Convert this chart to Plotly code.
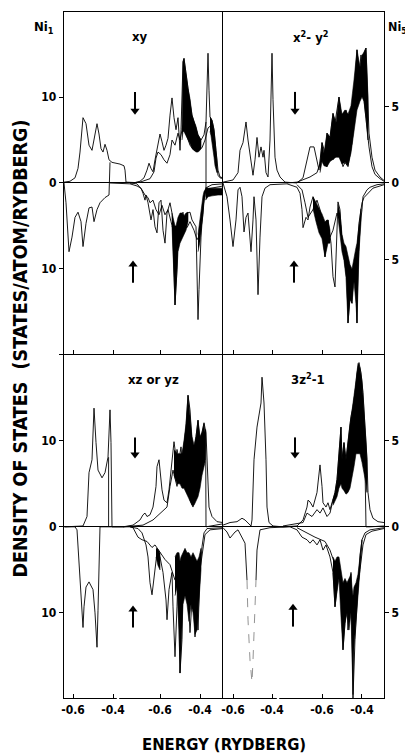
import plotly.graph_objects as go

# ---------------- tick positions / labels ----------------
left_tickvals = [-1.035, -0.835, -0.6, -0.4]
right_tickvals = [-1.045, -0.85, -0.6, -0.4]
x_ticktext = ["-0.6", "-0.4", "-0.6", "-0.4"]
ni1_tickvals = [-10, 0, 10]
ni1_ticktext = ["10", "0", "10"]
ni5_tickvals = [-5, 0, 5]
ni5_ticktext = ["5", "0", "5"]
axis_break_left = -0.81
axis_break_right = -0.82

# ---------------- xy : spin down (upper half) ----------------
xy_dn_a = [(-1.08, 0.1), (-1.05, 0.2), (-1.025, 0.6), (-1.01, 1.7), (-1.0, 3.6), (-0.99, 6.7), (-0.985, 7.6),
           (-0.97, 6.9), (-0.955, 4.4), (-0.94, 3.8), (-0.925, 5.5), (-0.915, 6.9), (-0.905, 5.7), (-0.895, 4.0),
           (-0.885, 3.6), (-0.875, 4.5), (-0.865, 3.8), (-0.855, 2.7), (-0.84, 2.4), (-0.80, 2.2), (-0.78, 2.0),
           (-0.775, 1.5), (-0.77, 0.1), (-0.725, 0.05), (-0.70, 0.2), (-0.68, 0.6), (-0.665, 1.5), (-0.655, 2.3),
           (-0.645, 1.7), (-0.635, 1.3), (-0.625, 2.7), (-0.615, 4.1), (-0.60, 5.7), (-0.59, 4.8), (-0.58, 3.8),
           (-0.57, 4.4), (-0.56, 5.2), (-0.55, 7.9), (-0.54, 9.9), (-0.53, 7.6), (-0.52, 6.2), (-0.51, 7.6),
           (-0.50, 3.8), (-0.495, 6.2), (-0.485, 14.1), (-0.48, 14.5), (-0.47, 12.6), (-0.455, 10.2), (-0.44, 7.9),
           (-0.425, 6.7), (-0.41, 5.6), (-0.395, 5.0), (-0.38, 5.6), (-0.37, 7.1), (-0.365, 12.0), (-0.36, 15.1),
           (-0.355, 10.8), (-0.35, 7.7), (-0.34, 7.3), (-0.33, 6.2), (-0.32, 3.8), (-0.31, 1.5), (-0.30, 0.7),
           (-0.285, 0.6)]
xy_dn_b = [(-0.75, 0), (-0.70, 0.1), (-0.65, 0.5), (-0.63, 1.3), (-0.62, 2.9), (-0.61, 3.6), (-0.595, 3.3),
           (-0.58, 2.7), (-0.565, 2.3), (-0.55, 3.3), (-0.54, 5.0), (-0.525, 4.4), (-0.51, 5.8), (-0.50, 5.0),
           (-0.485, 6.7), (-0.47, 5.6), (-0.45, 4.4), (-0.43, 3.8), (-0.41, 3.8), (-0.39, 4.1), (-0.375, 5.0),
           (-0.36, 6.4), (-0.345, 6.7), (-0.33, 5.6), (-0.32, 2.7), (-0.31, 0.9), (-0.30, 0.6), (-0.285, 0.5),
           (None, None), (-0.37, 7.1), (-0.37, -1.6)]
xy_dn_band1 = [(-0.49, 6.2, 5.0), (-0.485, 14.1, 6.0), (-0.48, 14.5, 6.0), (-0.47, 12.6, 5.5), (-0.46, 11.0, 5.0),
               (-0.45, 9.8, 4.6), (-0.44, 7.9, 4.0), (-0.43, 7.2, 3.8), (-0.42, 6.6, 3.6), (-0.41, 5.6, 3.6),
               (-0.40, 5.2, 3.8), (-0.395, 5.0, 4.0)]
xy_dn_band2 = [(-0.35, 7.7, 6.0), (-0.345, 7.5, 5.5), (-0.34, 7.3, 5.0), (-0.335, 6.8, 4.0), (-0.33, 6.2, 3.0),
               (-0.325, 5.0, 2.0), (-0.32, 3.8, 1.5), (-0.315, 2.5, 1.2)]

# ---------------- xy : spin up (lower half) ----------------
xy_up_a = [(-1.08, 0), (-1.07, -2.3), (-1.055, -8.0), (-1.04, -6.3), (-1.025, -4.0), (-1.01, -3.4), (-0.995, -4.5),
           (-0.985, -7.4), (-0.97, -4.7), (-0.955, -2.9), (-0.94, -2.8), (-0.93, -4.5), (-0.915, -3.1), (-0.90, -2.3),
           (-0.875, -1.7), (-0.855, -1.4), (-0.85, 2.4), (None, None), (-0.85, 0), (-0.80, -0.05), (-0.75, -0.1),
           (-0.715, -0.35), (-0.695, -0.6), (-0.685, -1.2), (-0.675, -2.0), (-0.67, -1.4), (-0.66, -2.3),
           (-0.645, -4.3), (-0.635, -3.1), (-0.625, -5.1), (-0.615, -5.8), (-0.605, -2.3), (-0.595, -2.0),
           (-0.585, -5.5), (-0.575, -7.0), (-0.565, -3.5), (-0.55, -2.3), (-0.54, -3.5), (-0.535, -8.1),
           (-0.525, -14.2), (-0.515, -10.1), (-0.51, -5.8), (-0.50, -4.0), (-0.485, -3.4), (-0.475, -4.9),
           (-0.465, -3.5), (-0.45, -3.4), (-0.44, -4.3), (-0.42, -5.1), (-0.415, -10.1), (-0.41, -15.9),
           (-0.405, -12.4), (-0.395, -6.3), (-0.385, -2.8), (-0.375, -1.2), (-0.365, -0.5), (-0.34, -0.2),
           (-0.285, -0.1)]
xy_up_b = [(-0.75, 0), (-0.715, -0.1), (-0.69, -0.8), (-0.675, -1.4), (-0.66, -1.7), (-0.65, -2.3), (-0.635, -2.0),
           (-0.62, -3.1), (-0.605, -3.7), (-0.59, -2.6), (-0.575, -3.7), (-0.56, -3.1), (-0.545, -4.5), (-0.53, -6.0),
           (-0.515, -7.2), (-0.50, -5.5), (-0.485, -4.9), (-0.465, -5.2), (-0.45, -4.5), (-0.43, -5.5), (-0.415, -6.6),
           (-0.40, -6.0), (-0.385, -3.7), (-0.38, -2.0), (-0.375, -1.0), (-0.365, -0.7), (-0.34, -0.6), (-0.31, -0.5),
           (-0.285, -0.35)]
xy_up_band1 = [(-0.54, -3.5, -5.0), (-0.535, -4.0, -8.1), (-0.53, -4.5, -11.0), (-0.525, -5.0, -14.2),
               (-0.52, -5.0, -12.0), (-0.515, -4.5, -10.0), (-0.51, -4.0, -8.0), (-0.50, -3.5, -7.0),
               (-0.49, -3.5, -6.5), (-0.48, -3.8, -6.0), (-0.47, -3.5, -5.5), (-0.46, -3.4, -4.5)]
xy_up_band2 = [(-0.41, -6.0, -8.0), (-0.405, -5.0, -7.5), (-0.40, -4.0, -6.8), (-0.395, -3.0, -5.5),
               (-0.39, -2.2, -4.2), (-0.385, -1.5, -3.0), (-0.38, -1.0, -2.0), (-0.375, -0.8, -1.3),
               (-0.37, -0.6, -1.0)]
xy_up_band3 = [(-0.372, -0.5, -2.0), (-0.36, -0.6, -1.6), (-0.34, -0.6, -1.5), (-0.31, -0.6, -1.4),
               (-0.285, -0.6, -1.4)]

# ---------------- x2-y2 : spin down ----------------
x2y2_dn_a = [(-1.095, 0.1), (-1.045, 0.35), (-1.02, 1.2), (-1.01, 3.8), (-0.995, 4.7), (-0.98, 7.1), (-0.97, 5.0),
             (-0.95, 1.2), (-0.945, 0.9), (-0.935, 2.7), (-0.925, 5.3), (-0.915, 3.0), (-0.905, 4.2), (-0.895, 3.0),
             (-0.89, 3.8), (-0.88, 1.2), (-0.87, 0.7), (-0.86, 5.0), (-0.85, 15.1), (-0.845, 9.7), (-0.835, 3.0),
             (-0.825, 1.5), (-0.81, 0.7), (-0.785, 0.1), (-0.725, 0), (-0.695, 0.6), (-0.675, 2.7), (-0.66, 4.2),
             (-0.64, 4.2), (-0.625, 2.7), (-0.615, 1.5), (-0.60, 4.7), (-0.585, 3.5), (-0.575, 5.8), (-0.56, 5.3),
             (-0.545, 8.1), (-0.535, 7.0), (-0.515, 10.0), (-0.505, 8.1), (-0.495, 7.3), (-0.48, 8.5), (-0.465, 7.3),
             (-0.45, 8.8), (-0.435, 12.0), (-0.425, 15.5), (-0.415, 12.5), (-0.405, 14.9), (-0.395, 11.5),
             (-0.39, 15.2), (-0.38, 15.7), (-0.37, 10.0), (-0.365, 5.8), (-0.35, 3.0), (-0.335, 1.5), (-0.31, 0.7),
             (-0.295, 0.35), (-0.29, 0.3)]
x2y2_dn_b = [(-0.775, 0), (-0.725, 0.1), (-0.66, 0.7), (-0.625, 1.2), (-0.61, 2.3), (-0.60, 3.0), (-0.575, 1.9),
             (-0.56, 3.3), (-0.545, 2.7), (-0.53, 3.9), (-0.515, 3.5), (-0.495, 1.9), (-0.485, 2.4), (-0.47, 1.9),
             (-0.45, 4.7), (-0.435, 8.1), (-0.42, 9.7), (-0.40, 10.8), (-0.39, 9.7), (-0.375, 6.5), (-0.365, 4.2),
             (-0.35, 1.9), (-0.335, 1.0), (-0.31, 0.5), (-0.29, 0.2)]
x2y2_dn_band = [(-0.61, 2.3, 1.2), (-0.60, 4.7, 2.5), (-0.59, 3.5, 2.0), (-0.575, 5.8, 1.9), (-0.56, 5.3, 2.5),
                (-0.545, 8.1, 2.7), (-0.53, 7.0, 3.0), (-0.515, 10.0, 3.0), (-0.50, 8.0, 2.2), (-0.485, 8.5, 2.4),
                (-0.47, 8.0, 2.0), (-0.455, 9.0, 3.5), (-0.44, 12.0, 6.0), (-0.425, 15.5, 8.5), (-0.41, 13.5, 9.5),
                (-0.40, 14.9, 10.0), (-0.39, 15.2, 9.5), (-0.38, 15.7, 7.5), (-0.37, 10.0, 5.0)]

# ---------------- x2-y2 : spin up ----------------
x2y2_up_a = [(-1.095, 0), (-1.075, -1.6), (-1.06, -4.3), (-1.045, -7.4), (-1.03, -4.3), (-1.02, -0.8), (-1.01, -0.5),
             (-1.0, -1.6), (-0.99, -5.7), (-0.98, -4.0), (-0.97, -3.5), (-0.955, -8.0), (-0.945, -4.3), (-0.94, -1.6),
             (-0.93, -4.3), (-0.92, -13.0), (-0.91, -6.3), (-0.90, -1.6), (-0.885, -0.6), (-0.86, -0.2),
             (-0.775, -0.1), (-0.725, -0.5), (-0.71, -1.2), (-0.70, -3.1), (-0.695, -5.2), (-0.68, -4.0),
             (-0.67, -4.3), (-0.66, -2.8), (-0.645, -1.6), (-0.635, -2.3), (-0.62, -3.5), (-0.60, -5.1),
             (-0.585, -8.6), (-0.575, -6.3), (-0.57, -4.3), (-0.555, -7.0), (-0.545, -10.9), (-0.535, -12.1),
             (-0.525, -3.5), (-0.52, -2.2), (-0.51, -3.1), (-0.50, -7.0), (-0.49, -8.6), (-0.475, -11.3),
             (-0.47, -16.3), (-0.46, -13.3), (-0.45, -14.0), (-0.445, -11.3), (-0.435, -9.0), (-0.425, -16.3),
             (-0.42, -10.1), (-0.41, -5.1), (-0.40, -3.1), (-0.395, -1.6), (-0.375, -0.8), (-0.36, -0.5),
             (-0.325, -0.2), (-0.29, -0.1)]
x2y2_up_b = [(-0.725, -0.2), (-0.70, -0.8), (-0.685, -2.3), (-0.67, -4.0), (-0.645, -3.1), (-0.625, -2.0),
             (-0.61, -3.1), (-0.595, -5.1), (-0.575, -4.3), (-0.56, -6.3), (-0.545, -5.5), (-0.525, -3.5),
             (-0.51, -4.3), (-0.495, -7.4), (-0.475, -8.6), (-0.46, -10.9), (-0.445, -10.1), (-0.425, -7.8),
             (-0.415, -4.7), (-0.40, -2.3), (-0.39, -1.7), (-0.37, -1.2), (-0.345, -0.6), (-0.31, -0.35),
             (-0.29, -0.2)]
x2y2_up_band1 = [(-0.645, -1.6, -3.0), (-0.63, -2.3, -4.5), (-0.615, -3.0, -5.8), (-0.60, -3.6, -6.5),
                 (-0.585, -4.5, -8.6), (-0.57, -4.3, -7.0), (-0.56, -5.5, -7.0)]
x2y2_up_band2 = [(-0.52, -2.5, -4.0), (-0.51, -3.5, -6.0), (-0.50, -6.0, -8.0), (-0.49, -7.0, -9.0),
                 (-0.48, -7.4, -11.0), (-0.47, -8.5, -16.3), (-0.46, -9.5, -13.5), (-0.45, -10.0, -14.0),
                 (-0.44, -8.5, -11.5), (-0.43, -7.5, -14.0), (-0.425, -7.0, -16.3), (-0.415, -5.0, -8.0),
                 (-0.405, -3.0, -4.5)]

# ---------------- xz or yz : spin down ----------------
xz_dn_a = [(-1.075, 0), (-0.985, 0.1), (-0.965, 1.2), (-0.955, 6.3), (-0.94, 7.8), (-0.935, 11.6), (-0.93, 13.8),
           (-0.92, 9.8), (-0.91, 6.6), (-0.89, 5.7), (-0.875, 6.3), (-0.86, 8.1), (-0.855, 11.6), (-0.85, 13.6),
           (-0.845, 9.8), (-0.84, 0), (-0.785, 0), (-0.735, 0.2), (-0.70, 0.8), (-0.685, 1.4), (-0.675, 1.6),
           (-0.665, 1.2), (-0.65, 1.4), (-0.635, 2.3), (-0.62, 4.7), (-0.615, 7.0), (-0.605, 7.8), (-0.60, 6.6),
           (-0.59, 4.3), (-0.58, 3.1), (-0.565, 2.8), (-0.555, 4.3), (-0.54, 7.8), (-0.53, 9.9), (-0.52, 8.1),
           (-0.515, 9.0), (-0.505, 7.8), (-0.495, 9.3), (-0.49, 7.8), (-0.48, 9.8), (-0.47, 11.6), (-0.46, 15.3),
           (-0.45, 13.6), (-0.44, 9.8), (-0.435, 7.8), (-0.42, 10.5), (-0.41, 12.4), (-0.40, 9.8), (-0.385, 11.3),
           (-0.38, 12.1), (-0.37, 10.9), (-0.36, 5.8), (-0.355, 2.3), (-0.34, 1.2), (-0.315, 0.6), (-0.285, 0.5)]
xz_dn_b = [(-0.785, 0), (-0.685, 0.2), (-0.635, 0.8), (-0.60, 1.6), (-0.565, 2.3), (-0.55, 4.7), (-0.535, 6.6),
           (-0.515, 4.7), (-0.50, 6.6), (-0.485, 5.8), (-0.465, 6.6), (-0.45, 3.1), (-0.435, 2.3), (-0.415, 4.7),
           (-0.40, 6.6), (-0.385, 8.1), (-0.375, 7.8), (-0.372, 11.3), (-0.37, 0), (-0.325, 0.2), (-0.285, 0.35),
           (None, None), (-0.857, 8.1), (-0.857, 0)]
xz_dn_band = [(-0.53, 9.0, 6.0), (-0.515, 8.5, 5.0), (-0.50, 8.5, 5.0), (-0.49, 8.5, 4.5), (-0.48, 10.0, 4.5),
              (-0.47, 12.0, 4.0), (-0.46, 15.3, 3.5), (-0.45, 13.0, 3.0), (-0.44, 10.5, 2.5), (-0.43, 9.5, 2.5),
              (-0.42, 10.5, 3.0), (-0.41, 12.4, 3.5), (-0.40, 10.5, 4.5), (-0.39, 11.0, 6.0), (-0.38, 12.0, 7.0),
              (-0.375, 11.0, 7.5)]

# ---------------- xz or yz : spin up ----------------
xz_up_a = [(-1.08, 0), (-1.025, 0), (-1.015, -0.35), (-1.01, -2.1), (-1.0, -5.6), (-0.99, -9.3), (-0.985, -11.7),
           (-0.98, -9.3), (-0.97, -7.0), (-0.955, -6.4), (-0.94, -7.0), (-0.935, -7.3), (-0.925, -10.0),
           (-0.915, -14.0), (-0.91, -9.7), (-0.905, -3.5), (-0.90, 0), (-0.75, 0), (-0.71, -0.2), (-0.69, -0.7),
           (-0.67, -2.1), (-0.66, -3.5), (-0.65, -6.5), (-0.64, -7.9), (-0.63, -5.6), (-0.615, -3.0), (-0.60, -3.5),
           (-0.585, -5.3), (-0.57, -8.5), (-0.565, -10.8), (-0.555, -7.3), (-0.54, -5.3), (-0.535, -9.3),
           (-0.525, -15.1), (-0.515, -9.3), (-0.51, -5.3), (-0.50, -17.0), (-0.49, -13.1), (-0.485, -5.3),
           (-0.475, -2.7), (-0.465, -5.3), (-0.45, -12.3), (-0.44, -8.5), (-0.435, -3.5), (-0.425, -12.8),
           (-0.415, -8.5), (-0.41, -12.0), (-0.40, -5.3), (-0.39, -2.3), (-0.38, -0.7), (-0.365, -0.2),
           (-0.285, -0.1)]
xz_up_b = [(-0.75, 0), (-0.735, -0.1), (-0.71, -1.2), (-0.69, -1.5), (-0.665, -1.7), (-0.64, -2.4), (-0.625, -2.1),
           (-0.60, -2.9), (-0.575, -3.8), (-0.55, -4.4), (-0.525, -6.2), (-0.50, -6.7), (-0.475, -3.8), (-0.45, -5.6),
           (-0.425, -7.3), (-0.40, -5.0), (-0.385, -2.7), (-0.375, -0.9), (-0.35, -0.35), (-0.285, -0.2)]
xz_up_band1 = [(-0.525, -3.5, -8.0), (-0.515, -3.0, -7.0), (-0.505, -3.0, -12.0), (-0.50, -4.0, -17.0),
               (-0.495, -3.5, -14.0), (-0.485, -3.0, -9.0), (-0.475, -2.5, -8.0), (-0.465, -3.0, -9.0),
               (-0.455, -3.0, -11.0), (-0.445, -3.5, -9.0), (-0.435, -3.0, -10.0), (-0.425, -3.5, -12.5),
               (-0.415, -4.0, -12.0), (-0.405, -3.5, -9.0), (-0.395, -2.5, -5.0)]
xz_up_band2 = [(-0.62, -2.5, -3.5), (-0.61, -2.6, -4.5), (-0.60, -3.0, -5.0)]

# ---------------- 3z2-1 : spin down ----------------
z2_dn_a = [(-1.095, 0.2), (-1.06, 0.5), (-1.025, 0.6), (-1.0, 1.0), (-0.985, 0.8), (-0.97, 0.5), (-0.955, 0.1),
           (-0.95, 0.8), (-0.94, 7.8), (-0.925, 11.6), (-0.915, 13.0), (-0.905, 14.4), (-0.90, 17.4), (-0.89, 14.4),
           (-0.88, 7.8), (-0.875, 2.3), (-0.865, 0.5), (-0.845, 0.1), (-0.795, 0), (-0.725, 0.1), (-0.695, 0.8),
           (-0.675, 2.3), (-0.67, 3.1), (-0.66, 2.9), (-0.645, 2.3), (-0.635, 3.1), (-0.625, 4.0), (-0.62, 5.1),
           (-0.61, 7.2), (-0.60, 4.7), (-0.595, 2.8), (-0.58, 2.3), (-0.57, 2.8), (-0.56, 2.0), (-0.545, 3.1),
           (-0.535, 4.0), (-0.525, 5.5), (-0.515, 8.6), (-0.505, 11.6), (-0.50, 7.8), (-0.49, 9.8), (-0.48, 7.8),
           (-0.47, 10.1), (-0.455, 12.8), (-0.445, 14.0), (-0.435, 15.6), (-0.425, 17.9), (-0.415, 19.1),
           (-0.405, 17.9), (-0.395, 15.6), (-0.385, 11.6), (-0.375, 7.8), (-0.37, 4.0), (-0.36, 2.0), (-0.345, 1.0),
           (-0.32, 0.6), (-0.29, 0.5)]
z2_dn_b = [(-0.795, 0.1), (-0.695, 0.5), (-0.675, 1.6), (-0.65, 1.2), (-0.625, 2.0), (-0.61, 1.6), (-0.595, 2.2),
           (-0.575, 1.2), (-0.56, 1.6), (-0.545, 3.1), (-0.525, 4.3), (-0.51, 5.8), (-0.495, 4.7), (-0.475, 4.0),
           (-0.46, 5.1), (-0.445, 7.8), (-0.425, 9.8), (-0.41, 9.3), (-0.395, 7.8), (-0.385, 7.1), (-0.38, 0),
           (-0.36, 0), (-0.29, 0.1)]
z2_dn_band = [(-0.545, 3.1, 2.5), (-0.535, 4.0, 3.0), (-0.525, 5.5, 3.5), (-0.515, 8.6, 4.5), (-0.505, 11.6, 5.0),
              (-0.50, 7.8, 4.5), (-0.49, 9.8, 4.2), (-0.48, 7.8, 3.8), (-0.47, 10.1, 4.0), (-0.46, 12.0, 4.5),
              (-0.45, 13.5, 5.5), (-0.44, 15.0, 7.0), (-0.43, 17.0, 8.5), (-0.42, 19.0, 8.5), (-0.41, 18.5, 8.5),
              (-0.40, 17.0, 7.5), (-0.39, 14.0, 6.5), (-0.38, 10.0, 5.0), (-0.375, 7.8, 4.0)]

# ---------------- 3z2-1 : spin up ----------------
z2_up_a = [(-1.095, -0.1), (-1.075, -0.6), (-1.06, -1.3), (-1.035, -0.6), (-1.02, -0.35), (-1.0, -1.2),
           (-0.985, -1.9), (-0.975, -6.2), (None, None), (-0.93, -6.2), (-0.925, -2.7), (-0.91, -0.35),
           (-0.86, -0.1), (-0.76, 0), (-0.725, -0.35),
           (-0.70, -1.2), (-0.675, -1.5), (-0.66, -1.9), (-0.645, -1.5), (-0.625, -2.1), (-0.61, -1.5),
           (-0.595, -2.7), (-0.58, -2.1), (-0.56, -3.5), (-0.545, -5.3), (-0.535, -9.3), (-0.525, -7.3),
           (-0.52, -3.5), (-0.51, -5.3), (-0.50, -10.5), (-0.495, -14.3), (-0.485, -11.2), (-0.475, -9.3),
           (-0.47, -12.0), (-0.455, -5.3), (-0.45, -12.0), (-0.445, -19.9), (-0.435, -13.1), (-0.425, -9.3),
           (-0.42, -6.2), (-0.41, -3.3), (-0.40, -1.5), (-0.385, -0.7), (-0.36, -0.35), (-0.29, -0.1)]
# faintly printed deep minimum of the same curve
z2_up_a_faint = [(-0.975, -6.2), (-0.97, -10.8), (-0.96, -15.5), (-0.95, -18.1), (-0.945, -15.5),
                 (-0.94, -12.0), (-0.93, -6.2)]
z2_up_b = [(-0.725, -0.1), (-0.685, -0.6), (-0.635, -1.2), (-0.585, -1.7), (-0.56, -2.7), (-0.535, -4.4),
           (-0.51, -6.2), (-0.49, -8.5), (-0.47, -7.3), (-0.45, -9.7), (-0.43, -8.5), (-0.41, -5.0), (-0.395, -2.1),
           (-0.38, -0.9), (-0.35, -0.5), (-0.29, -0.2)]
z2_up_band = [(-0.545, -3.5, -5.3), (-0.535, -4.0, -9.3), (-0.525, -3.5, -7.5), (-0.515, -3.5, -6.0),
              (-0.505, -5.0, -10.5), (-0.495, -6.5, -14.3), (-0.485, -6.0, -11.2), (-0.475, -6.5, -10.0),
              (-0.465, -6.0, -12.0), (-0.455, -5.5, -10.0), (-0.45, -7.0, -14.0), (-0.445, -8.0, -19.5),
              (-0.44, -7.0, -14.0), (-0.43, -6.5, -11.0), (-0.42, -5.5, -8.0), (-0.41, -3.5, -5.0),
              (-0.40, -1.5, -2.0)]

# ---------------- labels ----------------
panel_names = ["xy", "x<sup>2</sup>- y<sup>2</sup>", "xz or yz", "3z<sup>2</sup>-1"]
panel_label_pos = [(-0.70, 17.0), (-0.655, 17.0), (-0.635, 17.1), (-0.67, 17.2)]
# spin arrows: (x, tail_y, head_y) for the upper (down-spin) and lower (up-spin) half of each panel
arrow_dn = [(-0.725, 10.6, 8.4), (-0.735, 10.6, 8.4), (-0.725, 10.4, 8.4), (-0.735, 10.4, 8.4)]
arrow_up = [(-0.735, -11.6, -9.5), (-0.74, -11.6, -9.5), (-0.735, -11.7, -9.6), (-0.745, -11.6, -9.4)]

FONT = "Liberation Sans Narrow, DejaVu Sans Condensed, Arial Narrow, Liberation Sans, Arial, sans-serif"

fig = go.Figure()


def add_line(pairs, xa, ya, width=0.9, color="black", dash="solid"):
    fig.add_trace(go.Scatter(x=[p[0] for p in pairs], y=[p[1] for p in pairs], mode="lines",
                             line=dict(color=color, width=width, dash=dash), xaxis=xa, yaxis=ya,
                             connectgaps=False, hoverinfo="skip", showlegend=False))


def add_band(triples, xa, ya):
    e = [t[0] for t in triples]
    hi = [t[1] for t in triples]
    lo = [t[2] for t in triples]
    fig.add_trace(go.Scatter(x=e + e[::-1], y=hi + lo[::-1], mode="lines", fill="toself",
                             fillcolor="black", line=dict(color="black", width=0.6),
                             xaxis=xa, yaxis=ya, hoverinfo="skip", showlegend=False))


def add_arrow(xv, tail, head, xa, ya, symbol):
    fig.add_trace(go.Scatter(x=[xv, xv], y=[tail, head], mode="lines", line=dict(color="black", width=2),
                             xaxis=xa, yaxis=ya, hoverinfo="skip", showlegend=False))
    fig.add_trace(go.Scatter(x=[xv], y=[head], mode="markers",
                             marker=dict(symbol=symbol, size=8, color="black"),
                             xaxis=xa, yaxis=ya, hoverinfo="skip", showlegend=False))


panels = [
    ("x", "y", [xy_dn_a, xy_dn_b, xy_up_a, xy_up_b], [xy_dn_band1, xy_dn_band2, xy_up_band1, xy_up_band2, xy_up_band3]),
    ("x2", "y2", [x2y2_dn_a, x2y2_dn_b, x2y2_up_a, x2y2_up_b], [x2y2_dn_band, x2y2_up_band1, x2y2_up_band2]),
    ("x3", "y3", [xz_dn_a, xz_dn_b, xz_up_a, xz_up_b], [xz_dn_band, xz_up_band1, xz_up_band2]),
    ("x4", "y4", [z2_dn_a, z2_dn_b, z2_up_a, z2_up_b], [z2_dn_band, z2_up_band]),
]

for (xa, ya, lines, bands), ad, au in zip(panels, arrow_dn, arrow_up):
    for b in bands:
        add_band(b, xa, ya)
    for ln in lines:
        add_line(ln, xa, ya)
    add_arrow(ad[0], ad[1], ad[2], xa, ya, "triangle-down")
    add_arrow(au[0], au[1], au[2], xa, ya, "triangle-up")

add_line(z2_up_a_faint, "x4", "y4", width=0.8, color="#777777", dash="dash")

# dummy traces so the Ni5 axes are drawn
fig.add_trace(go.Scatter(x=[None], y=[None], xaxis="x2", yaxis="y5", showlegend=False, hoverinfo="skip"))
fig.add_trace(go.Scatter(x=[None], y=[None], xaxis="x4", yaxis="y6", showlegend=False, hoverinfo="skip"))

XS = 0.4969
YS = 0.5015
tickfont = dict(family=FONT, size=12, color="black", weight="bold")
LW = 1.4


def xax(dom, rng, tv, anchor, labels, mirror):
    return dict(domain=dom, range=rng, anchor=anchor, tickmode="array", tickvals=tv, ticktext=x_ticktext,
                showticklabels=labels, ticks="inside", ticklen=4, tickcolor="black", tickfont=tickfont,
                zeroline=False, showgrid=False, showline=True, linecolor="black", linewidth=LW, mirror=mirror)


def yax(dom, rng, anchor, labels, mirror):
    d = dict(domain=dom, range=rng, anchor=anchor, tickmode="array", tickvals=ni1_tickvals,
             ticktext=ni1_ticktext, showticklabels=labels, ticks="outside" if labels else "",
             ticklen=4, tickcolor="black", tickfont=tickfont, zeroline=True, zerolinecolor="black",
             zerolinewidth=1.1, showgrid=False, showline=True, linecolor="black", linewidth=LW,
             mirror=mirror)
    if labels:
        d["minor"] = dict(dtick=10, tick0=0, ticks="outside", ticklen=4, tickcolor="black", showgrid=False)
    return d


def ni5ax(over, anchor, rng):
    return dict(overlaying=over, side="right", anchor=anchor, range=rng, tickmode="array",
                tickvals=ni5_tickvals, ticktext=ni5_ticktext, ticks="outside", ticklen=4, tickcolor="black",
                tickfont=tickfont, showgrid=False, zeroline=False, showline=False)


fig.update_layout(
    width=405, height=746,
    margin=dict(l=56, r=29, t=4, b=56),
    paper_bgcolor="white", plot_bgcolor="white",
    showlegend=False,
    xaxis=xax([0, XS], [-1.08, -0.285], left_tickvals, "y", False, True),
    xaxis2=xax([XS, 1], [-1.095, -0.29], right_tickvals, "y2", False, True),
    xaxis3=xax([0, XS], [-1.08, -0.285], left_tickvals, "y3", True, False),
    xaxis4=xax([XS, 1], [-1.095, -0.29], right_tickvals, "y4", True, False),
    yaxis=yax([YS, 1], [-19.9, 19.9], "x", True, False),
    yaxis2=yax([YS, 1], [-19.9, 19.9], "x2", False, True),
    yaxis3=yax([0, YS], [-19.9, 20.1], "x3", True, False),
    yaxis4=yax([0, YS], [-19.9, 20.1], "x4", False, True),
    yaxis5=ni5ax("y2", "x2", [-11.18, 11.18]),
    yaxis6=ni5ax("y4", "x4", [-9.95, 10.05]),
)

# small gaps in the bottom axis line where the energy scale is broken
fig.add_shape(type="line", xref="x3", yref="paper", x0=axis_break_left - 0.006, x1=axis_break_left + 0.006,
              y0=0, y1=0, line=dict(color="white", width=3))
fig.add_shape(type="line", xref="x4", yref="paper", x0=axis_break_right - 0.006, x1=axis_break_right + 0.006,
              y0=0, y1=0, line=dict(color="white", width=3))

ann = []
axes_pairs = [("x", "y"), ("x2", "y2"), ("x3", "y3"), ("x4", "y4")]
for (xa, ya), name, (lx, ly) in zip(axes_pairs, panel_names, panel_label_pos):
    ann.append(dict(x=lx, y=ly, xref=xa, yref=ya, text=name, showarrow=False, xanchor="center", yanchor="middle",
                    font=dict(family=FONT, size=13, color="black", weight="bold")))

ann.append(dict(x=-0.0625, y=0.993, xref="paper", yref="paper", xanchor="center", yanchor="top",
                text="Ni<sub>1</sub>", showarrow=False,
                font=dict(family=FONT, size=13, color="black", weight="bold")))
ann.append(dict(x=1.043, y=0.993, xref="paper", yref="paper", xanchor="center", yanchor="top",
                text="Ni<sub>5</sub>", showarrow=False,
                font=dict(family=FONT, size=12.5, color="black", weight="bold")))
ann.append(dict(x=-0.136, y=0.51, xref="paper", yref="paper", xanchor="center", yanchor="middle",
                text="DENSITY OF STATES  (STATES/ATOM/RYDBERG)", textangle=-90, showarrow=False,
                font=dict(family=FONT, size=19.5, color="black", weight="bold")))
ann.append(dict(x=0.5, y=-0.0685, xref="paper", yref="paper", xanchor="center", yanchor="middle",
                text="ENERGY (RYDBERG)", showarrow=False,
                font=dict(family=FONT, size=16.5, color="black", weight="bold")))
fig.update_layout(annotations=ann)

fig.write_html("out.html")
